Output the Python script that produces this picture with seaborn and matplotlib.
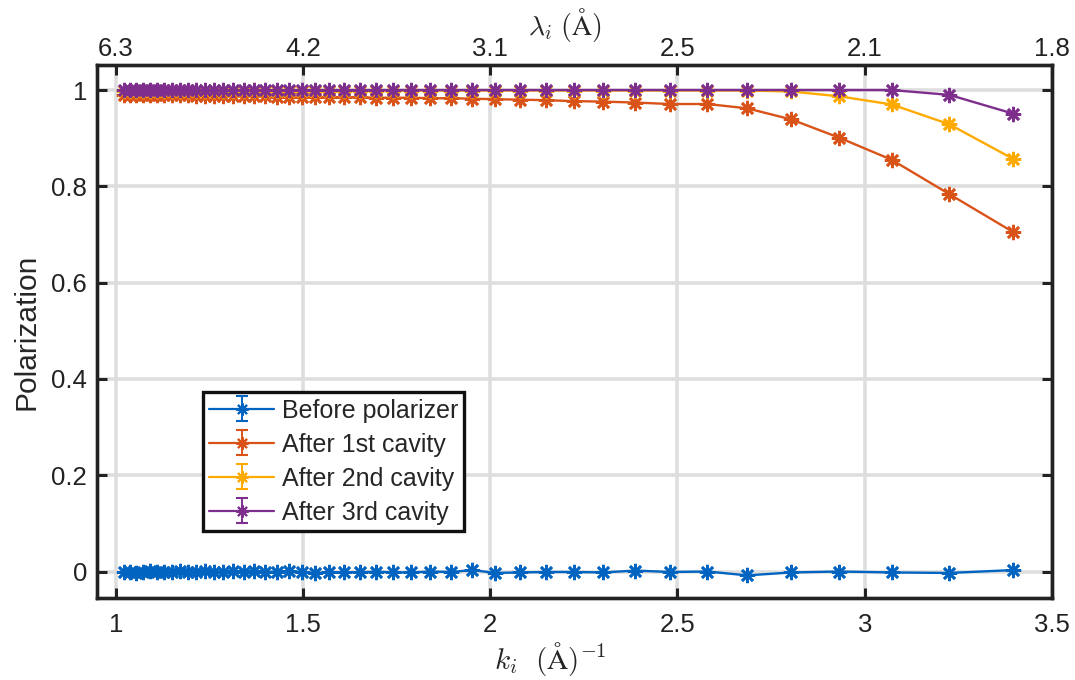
import numpy as np
import matplotlib
matplotlib.use("Agg")
import matplotlib.pyplot as plt
import seaborn as sns

# ---- data ----
k_values = [1.0217, 1.0382, 1.0551, 1.0728, 1.0910, 1.1099, 1.1293, 1.1495, 1.1705, 1.1922,
            1.2146, 1.2381, 1.2624, 1.2875, 1.3139, 1.3414, 1.3701, 1.3997, 1.4309, 1.4636,
            1.4978, 1.5332, 1.5708, 1.6102, 1.6513, 1.6950, 1.7410, 1.7896, 1.8404, 1.8948,
            1.9525, 2.0138, 2.0785, 2.1481, 2.2226, 2.3016, 2.3872, 2.4795, 2.5793, 2.6863,
            2.8037, 2.9320, 3.0724, 3.2255, 3.3963]

before_polarizer = [-0.002, 0.000, -0.003, -0.001, 0.001, -0.002, 0.000, -0.001, 0.002, -0.002,
                    -0.001, 0.001, -0.002, 0.000, 0.001, -0.001, 0.002, -0.001, 0.000, 0.001,
                    -0.002, -0.003, -0.002, -0.001, -0.002, 0.000, -0.002, -0.002, 0.000, -0.001,
                    0.003, -0.003, -0.002, -0.001, -0.001, -0.002, 0.002, -0.001, 0.000, -0.008,
                    -0.002, 0.000, -0.002, -0.003, 0.003]

after_1st = [0.990, 0.990, 0.990, 0.990, 0.989, 0.990, 0.989, 0.989, 0.989, 0.989,
             0.988, 0.988, 0.988, 0.988, 0.987, 0.987, 0.987, 0.987, 0.986, 0.986,
             0.986, 0.986, 0.985, 0.985, 0.985, 0.984, 0.984, 0.984, 0.983, 0.983,
             0.982, 0.981, 0.980, 0.979, 0.977, 0.976, 0.974, 0.971, 0.971, 0.962,
             0.939, 0.901, 0.855, 0.784, 0.705]

after_2nd = [0.999, 0.999, 0.999, 0.999, 0.999, 0.999, 0.999, 0.999, 0.999, 0.999,
             0.999, 0.999, 0.999, 0.999, 0.999, 0.999, 0.999, 0.999, 0.999, 0.999,
             0.999, 0.999, 0.999, 0.999, 0.999, 0.999, 0.999, 0.999, 0.999, 0.999,
             0.999, 0.999, 0.999, 0.999, 0.999, 0.999, 0.999, 0.999, 0.999, 0.999,
             0.997, 0.987, 0.970, 0.929, 0.857]

after_3rd = [1.000, 1.000, 1.000, 1.000, 1.000, 1.000, 1.000, 1.000, 1.000, 1.000,
             1.000, 1.000, 1.000, 1.000, 1.000, 1.000, 1.000, 1.000, 1.000, 1.000,
             1.000, 1.000, 1.000, 1.000, 1.000, 1.000, 1.000, 1.000, 1.000, 1.000,
             1.000, 1.000, 1.000, 1.000, 1.000, 1.000, 1.000, 1.000, 1.000, 1.000,
             1.000, 1.000, 1.000, 0.990, 0.951]

series_labels = ["Before polarizer", "After 1st cavity", "After 2nd cavity", "After 3rd cavity"]
series_errors = [0.002, 0.002, 0.002, 0.002]
series_colors = ["#0064C0", "#D95319", "#FFAA00", "#7E2F8E"]

bottom_ticks = [1, 1.5, 2, 2.5, 3, 3.5]
bottom_tick_labels = ["1", "1.5", "2", "2.5", "3", "3.5"]
top_tick_labels = ["6.3", "4.2", "3.1", "2.5", "2.1", "1.8"]
y_ticks = [0, 0.2, 0.4, 0.6, 0.8, 1]
y_tick_labels = ["0", "0.2", "0.4", "0.6", "0.8", "1"]

# ---- style ----
sns.set_theme(style="white")
plt.rcParams["font.family"] = ["Liberation Sans", "DejaVu Sans"]
plt.rcParams["mathtext.fontset"] = "cm"

fig = plt.figure(figsize=(10.75, 6.8), dpi=100)
ax = fig.add_axes([0.0902, 0.1206, 0.8884, 0.7838])

all_series = [before_polarizer, after_1st, after_2nd, after_3rd]
asterisk = (8, 2, 0)

for i, (vals, lab, col, err) in enumerate(zip(all_series, series_labels, series_colors, series_errors)):
    sns.lineplot(x=k_values, y=vals, ax=ax, color=col, linewidth=1.7,
                 marker=asterisk, markersize=11, markeredgewidth=1.9,
                 markeredgecolor=col, legend=False, zorder=3 + i)
    ax.errorbar(k_values, vals, yerr=err, fmt="none", ecolor=col, elinewidth=1.0,
                capsize=0, zorder=3 + i)

# legend proxies (errorbar style)
handles = []
for lab, col in zip(series_labels, series_colors):
    h = ax.errorbar([np.nan], [np.nan], yerr=[1.0], fmt="-", color=col, linewidth=1.6,
                    marker=asterisk, markersize=9, markeredgewidth=1.5, markeredgecolor=col,
                    capsize=4, elinewidth=1.4, label=lab)
    handles.append(h)

leg = ax.legend(handles=handles, labels=series_labels, loc="upper left",
                bbox_to_anchor=(0.111, 0.386), fontsize=18, frameon=True,
                fancybox=False, edgecolor="#111111", framealpha=1,
                handlelength=2.6, handletextpad=0.3, labelspacing=0.4,
                borderpad=0.25, borderaxespad=0)
leg.get_frame().set_linewidth(2.4)

ax.set_xlim(0.95, 3.5)
ax.set_ylim(-0.055, 1.052)
ax.set_xticks(bottom_ticks)
ax.set_xticklabels(bottom_tick_labels)
ax.set_yticks(y_ticks)
ax.set_yticklabels(y_tick_labels)

ax.grid(True, color="#dedede", linewidth=2.6)
ax.set_axisbelow(True)

for sp in ax.spines.values():
    sp.set_linewidth(2.4)
    sp.set_color("#222222")
    sp.set_visible(True)

ax.tick_params(axis="both", which="major", direction="in", length=7, width=2.2,
               color="#222222", labelsize=18.5, labelcolor="#222222",
               top=False, right=True, bottom=True, left=True)
ax.tick_params(axis="x", pad=11)
ax.tick_params(axis="y", pad=7)

ax.set_xlabel(r"$k_i\ \ (\mathrm{\AA})^{-1}$", fontsize=21)
ax.xaxis.set_label_coords(0.475, -0.078)
ax.set_ylabel("Polarization", fontsize=21.5, labelpad=8)

# top axis in wavelength
ax_top = ax.twiny()
ax_top.set_xlim(ax.get_xlim())
ax_top.set_xticks(bottom_ticks)
ax_top.set_xticklabels(top_tick_labels)
ax_top.tick_params(axis="x", direction="in", length=7, width=2.2, color="#222222",
                   labelsize=18.5, labelcolor="#222222", pad=3)
ax_top.set_xlabel(r"$\lambda_i\ (\mathrm{\AA})$", fontsize=20)
ax_top.xaxis.set_label_coords(0.49, 1.057)
ax_top.grid(False)
for sp in ax_top.spines.values():
    sp.set_linewidth(2.4)
    sp.set_color("#222222")

fig.savefig("out.png", dpi=100, facecolor="white")
